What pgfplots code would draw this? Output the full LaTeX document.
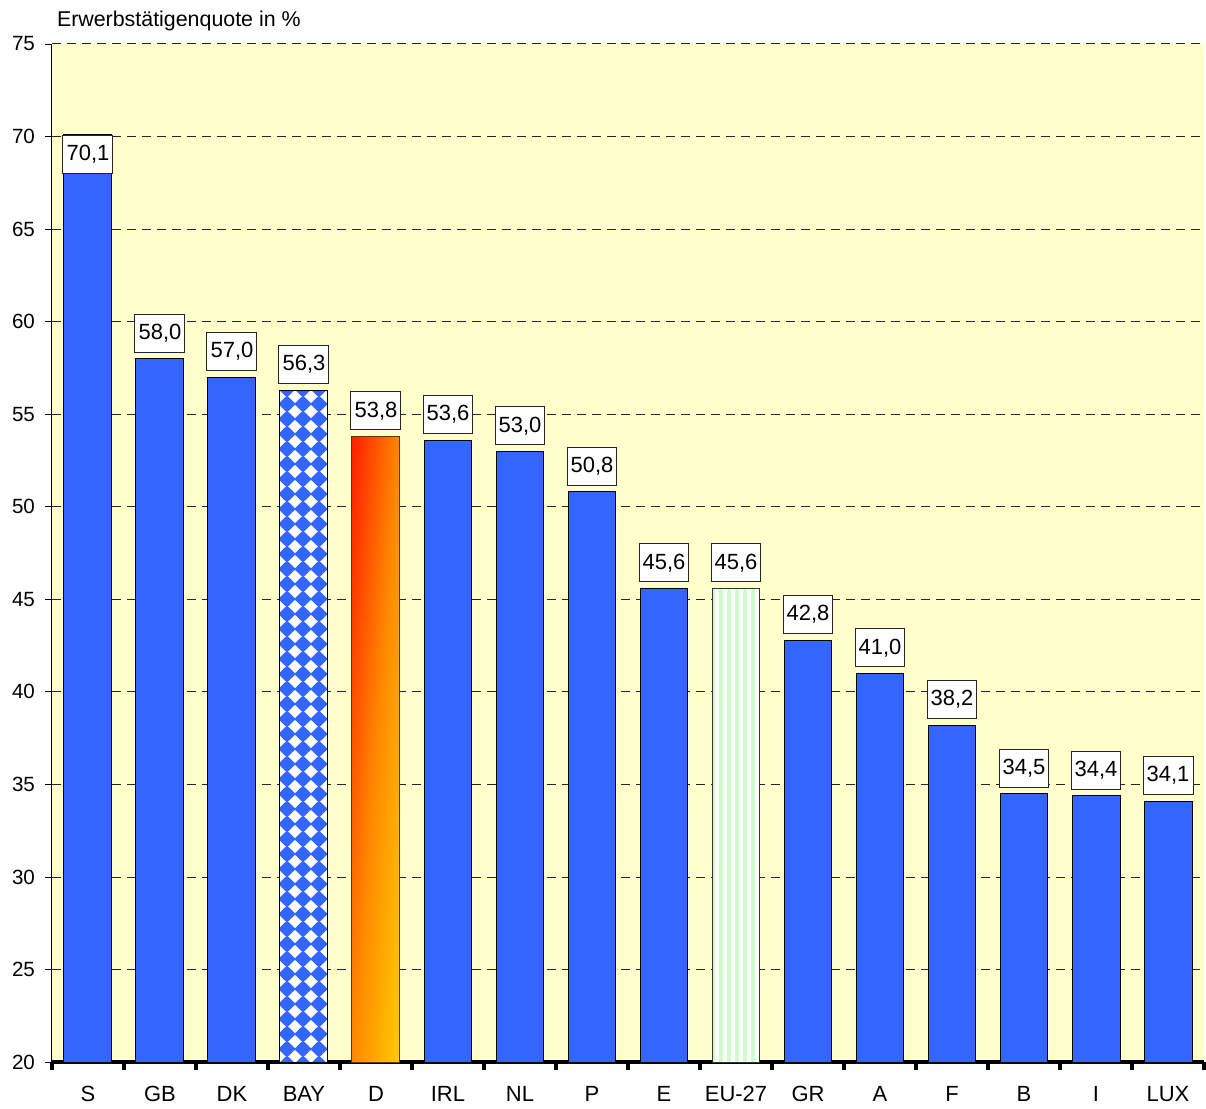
\documentclass[border=0pt]{standalone}
\usepackage{pgfplots}
\pgfplotsset{compat=1.18}
\usepackage{fontspec}
\setmainfont{Liberation Sans}
\usetikzlibrary{patterns}
\definecolor{barblue}{HTML}{3366FF}
\definecolor{bgyellow}{HTML}{FFFFCC}
\definecolor{stripegreen}{HTML}{CCFFCC}
\definecolor{dborder}{HTML}{663300}
\pgfdeclarepatternformonly{bavdiamonds}{\pgfpointorigin}{\pgfpoint{8pt}{7.5pt}}{\pgfpoint{8pt}{7.5pt}}{%
  \pgfpathmoveto{\pgfpoint{4pt}{0.5pt}}%
  \pgfpathlineto{\pgfpoint{7.4pt}{3.75pt}}%
  \pgfpathlineto{\pgfpoint{4pt}{7.0pt}}%
  \pgfpathlineto{\pgfpoint{0.6pt}{3.75pt}}%
  \pgfpathclose\pgfusepath{fill}}
\pgfdeclarepatternformonly{vstripes}{\pgfpointorigin}{\pgfpoint{4pt}{4pt}}{\pgfpoint{4pt}{4pt}}{%
  \pgfpathrectangle{\pgfpointorigin}{\pgfpoint{2pt}{4pt}}\pgfusepath{fill}}
\pgfplotsset{
  colormap={dgrad}{rgb255=(255,30,0) rgb255=(255,136,0) rgb255=(255,204,0)},
  lbl/.style={
    nodes near coords={\pgfmathprintnumber[fixed,fixed zerofill,precision=1,use comma]{\pgfplotspointmeta}},
    every node near coord/.append style={draw=black!85, fill=white, line width=0.5pt,
      font=\fontsize{11}{13}\selectfont, inner sep=1.5pt, minimum height=19pt,
      minimum width=25pt, anchor=south, yshift=3pt}},
  barbase/.style={ybar, bar width=24pt, bar shift=0pt, line width=0.5pt}
}
\begin{document}
\begin{tikzpicture}
\begin{axis}[
  scale only axis, width=576.5pt, height=509.5pt,
  xmin=-0.5, xmax=15.5, ymin=20, ymax=75,
  point meta min=0, point meta max=1,
  ytick={20,25,...,75},
  xtick={0,...,15},
  xticklabels={S,GB,DK,BAY,D,IRL,NL,P,E,EU-27,GR,A,F,B,I,LUX},
  minor xtick={-0.5,0.5,...,15.5},
  major x tick style={draw=none},
  minor x tick style={line width=1.8pt, black},
  minor tick length=4pt,
  major tick length=3.5pt,
  tick align=outside,
  y tick style={black, line width=0.4pt},
  axis x line*=bottom, axis y line*=left,
  x axis line style={line width=2pt},
  y axis line style={line width=0.5pt},
  ymajorgrids,
  grid style={black!85, line width=0.5pt, dash pattern=on 4.5pt off 3pt},
  axis background/.style={fill=bgyellow},
  /pgf/number format/assume math mode=true,
  yticklabel style={font=\fontsize{10.3}{12}\selectfont, xshift=-1.5pt},
  xticklabel style={font=\fontsize{11}{13}\selectfont, yshift=-5pt},
]
\addplot[barbase, fill=barblue, draw=black, lbl] coordinates {
  (1,58.0) (2,57.0) (5,53.6) (6,53.0) (7,50.8) (8,45.6)
  (10,42.8) (11,41.0) (12,38.2) (13,34.5) (14,34.4) (15,34.1)};
\addplot[barbase, fill=barblue, draw=black, lbl,
  every node near coord/.append style={anchor=north, yshift=-3pt}] coordinates {(0,70.1)};
\addplot[barbase, fill=barblue, draw=black, lbl,
  postaction={pattern=bavdiamonds, pattern color=white}] coordinates {(3,56.3)};
\addplot[patch, patch type=rectangle, shader=interp, colormap name=dgrad, point meta=explicit]
  coordinates {(3.6667,20) [0.5] (4.3333,20) [1] (4.3333,53.8) [0.5] (3.6667,53.8) [0]};
\addplot[barbase, fill=none, draw=dborder, lbl] coordinates {(4,53.8)};
\addplot[barbase, fill=white, draw=black!80, lbl,
  postaction={pattern=vstripes, pattern color=stripegreen}] coordinates {(9,45.6)};
\end{axis}
\node[anchor=base west, font=\fontsize{10.7}{12}\selectfont] at ([shift={(-1pt,8.5pt)}]current axis.north west) {Erwerbstätigenquote in \%};
\path ([shift={(-26pt,-21pt)}]current axis.south west) rectangle ([shift={(0.5pt,22pt)}]current axis.north east);
\end{tikzpicture}
\end{document}
